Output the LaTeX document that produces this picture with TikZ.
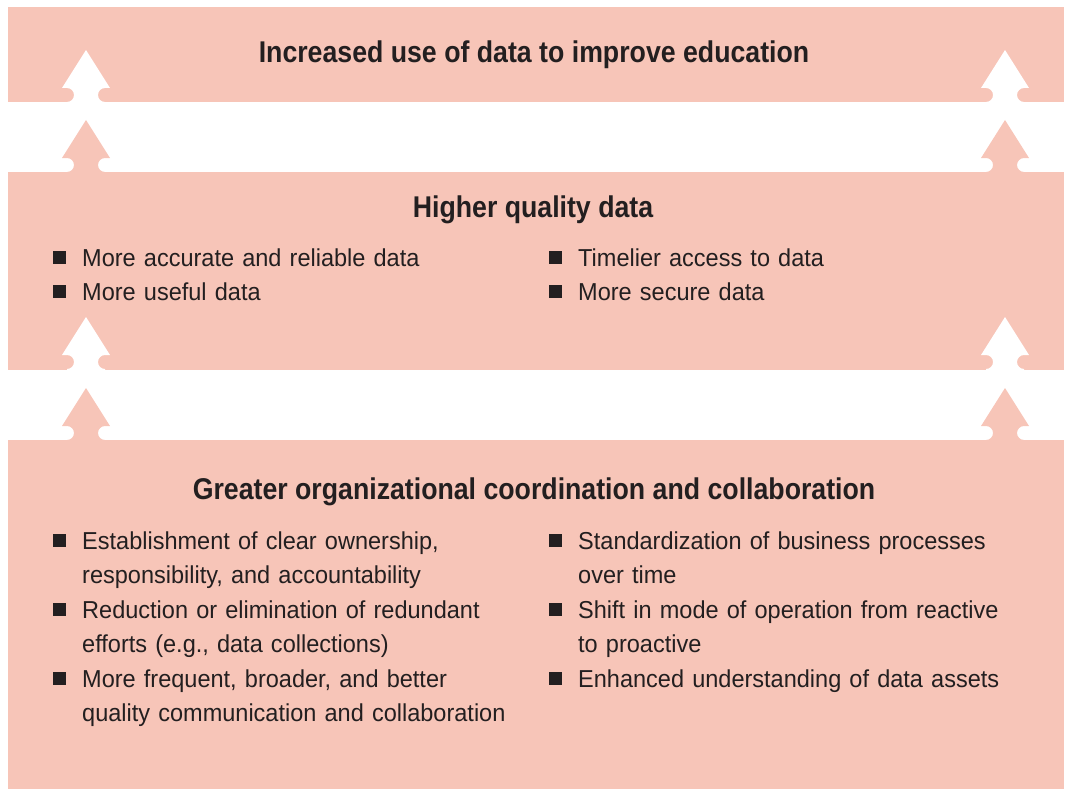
\documentclass[tikz,border=0pt]{standalone}
\usepackage{fontspec}
\setmainfont{Liberation Sans}[FakeStretch=0.96]
\newfontfamily\headfont{Liberation Sans}[FakeStretch=0.89]
\usetikzlibrary{positioning}

\definecolor{bandpink}{HTML}{F7C5B8}
\definecolor{inkgrey}{HTML}{231F20}

\begin{document}
\begin{tikzpicture}[
            x = 1pt, y = 1pt, % one unit = one pixel of the layout
            band/.style = {fill=bandpink},
            title/.style = {font=\headfont\bfseries\fontsize{30}{36}\selectfont,
                text=inkgrey, anchor=base, inner sep=0pt},
            item/.style = {font=\fontsize{24.5}{34.5}\selectfont, text=inkgrey,
                anchor=base west, inner sep=0pt, text width=450pt, align=left},
            bulletsq/.style = {fill=inkgrey, minimum size=13pt, inner sep=0pt,
                left=16pt of #1, yshift=9pt},
            pics/notcharrow/.style = {code={
                \fill[#1] (-19,-2) -- (-19,0) arc[start angle=-90, end angle=90, radius=7]
                    -- (-24,14) -- (0,52) -- (24,14) -- (19,14)
                    arc[start angle=90, end angle=270, radius=7] -- (19,-2) -- cycle;
            }}
        ]
    \useasboundingbox (0,0) rectangle (1065,-789);

    % the three bands
    \fill[band] (8,-7) rectangle (1064,-102);
    \fill[band] (8,-172) rectangle (1064,-370);
    \fill[band] (8,-440) rectangle (1064,-789);

    % arrows between the bands
    \foreach \xc in {86,1005} {
        \pic at (\xc,-102) {notcharrow=white};
        \pic at (\xc,-172) {notcharrow=bandpink};
        \pic at (\xc,-369) {notcharrow=white};
        \pic at (\xc,-440) {notcharrow=bandpink};
    }

    % titles
    \node[title] (use) at (534,-63) {Increased use of data to improve education};
    \node[title] (quality) at (533,-217) {Higher quality data};
    \node[title] (coord) at (534,-499) {Greater organizational coordination and collaboration};

    % middle band
    \node[item] (q1) at (82,-266.5) {More accurate and reliable data};
    \node[item] (q2) at (82,-300.5) {More useful data};
    \node[item] (q3) at (578,-266.5) {Timelier access to data};
    \node[item] (q4) at (578,-300.5) {More secure data};

    % bottom band
    \node[item] (c1) at (82,-549) {Establishment of clear ownership,\\responsibility, and accountability};
    \node[item] (c2) at (82,-618) {Reduction or elimination of redundant\\efforts (e.g., data collections)};
    \node[item] (c3) at (82,-687) {More frequent, broader, and better\\quality communication and collaboration};
    \node[item] (c4) at (578,-549) {Standardization of business processes\\over time};
    \node[item] (c5) at (578,-618) {Shift in mode of operation from reactive\\to proactive};
    \node[item] (c6) at (578,-687) {Enhanced understanding of data assets};

    \foreach \it in {q1,q2,q3,q4,c1,c2,c3,c4,c5,c6}
        \node[bulletsq=\it.base west] (b\it) {};
\end{tikzpicture}
\end{document}
